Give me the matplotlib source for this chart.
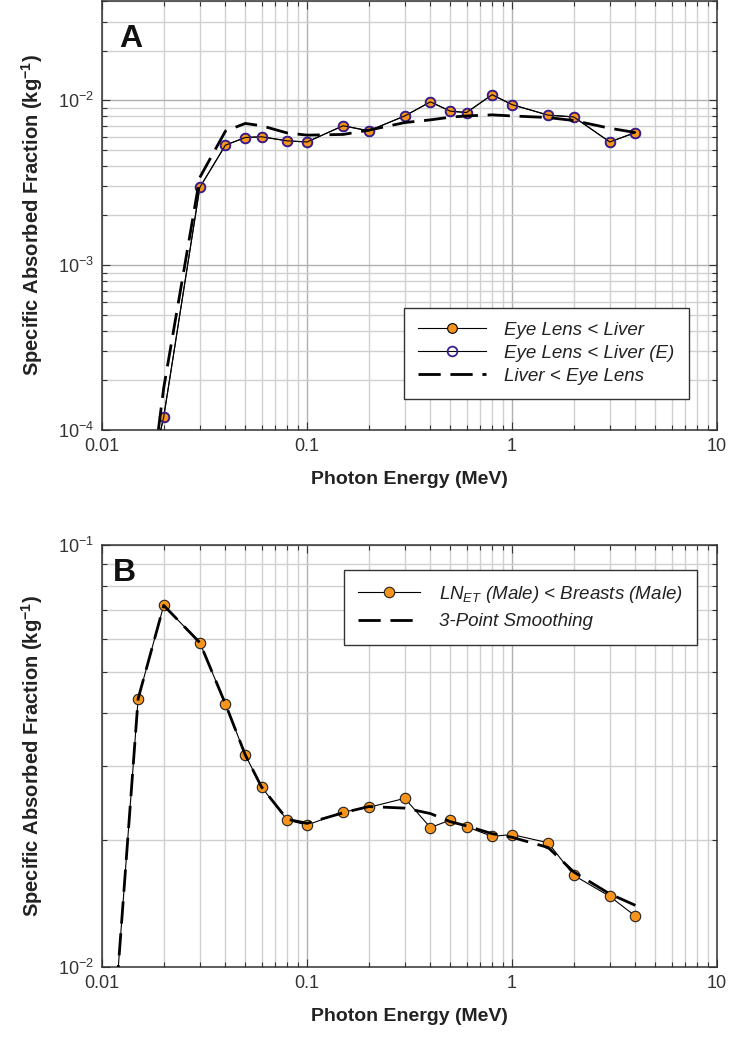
import matplotlib
matplotlib.use("Agg")
import matplotlib.pyplot as plt
from matplotlib.ticker import LogLocator, NullFormatter, FixedLocator, FixedFormatter

plt.rcParams['font.family'] = ['Liberation Sans', 'DejaVu Sans']
plt.rcParams['mathtext.fontset'] = 'custom'
plt.rcParams['mathtext.rm'] = 'Liberation Sans'
plt.rcParams['mathtext.it'] = 'Liberation Sans:italic'
plt.rcParams['mathtext.bf'] = 'Liberation Sans:bold'

# ---------------- Data ----------------
energy_a = [0.015, 0.02, 0.03, 0.04, 0.05, 0.06, 0.08, 0.1, 0.15, 0.2, 0.3,
            0.4, 0.5, 0.6, 0.8, 1.0, 1.5, 2.0, 3.0, 4.0]
saf_eye_lens_liver = [2.5e-5, 1.2e-4, 2.96e-3, 5.34e-3, 5.94e-3, 6.0e-3, 5.67e-3,
                      5.58e-3, 7.0e-3, 6.52e-3, 8.03e-3, 9.77e-3, 8.58e-3, 8.42e-3,
                      1.08e-2, 9.4e-3, 8.12e-3, 7.92e-3, 5.58e-3, 6.37e-3]
saf_eye_lens_liver_e = [2.5e-5, 1.2e-4, 2.96e-3, 5.34e-3, 5.94e-3, 6.0e-3, 5.67e-3,
                        5.58e-3, 7.0e-3, 6.52e-3, 8.03e-3, 9.77e-3, 8.58e-3, 8.42e-3,
                        1.08e-2, 9.4e-3, 8.12e-3, 7.92e-3, 5.58e-3, 6.37e-3]
saf_liver_eye_lens = [1.1e-5, 1.8e-4, 3.4e-3, 6.5e-3, 7.23e-3, 7.0e-3, 6.33e-3,
                      6.14e-3, 6.2e-3, 6.58e-3, 7.32e-3, 7.6e-3, 7.89e-3, 8.03e-3,
                      8.15e-3, 8.03e-3, 7.85e-3, 7.53e-3, 6.76e-3, 6.37e-3]

energy_b = [0.01, 0.015, 0.02, 0.03, 0.04, 0.05, 0.06, 0.08, 0.1, 0.15, 0.2, 0.3,
            0.4, 0.5, 0.6, 0.8, 1.0, 1.5, 2.0, 3.0, 4.0]
saf_ln_breasts = [0.003, 0.0432, 0.0719, 0.0587, 0.0420, 0.0318, 0.0267, 0.0223,
                  0.0217, 0.0233, 0.0239, 0.0251, 0.0214, 0.0223, 0.0215, 0.0204,
                  0.0206, 0.0197, 0.0165, 0.0147, 0.0132]
saf_smoothed = [0.003, 0.0432, 0.0719, 0.0587, 0.0420, 0.0318, 0.0267, 0.0224,
                0.0219, 0.0232, 0.0240, 0.0238, 0.0231, 0.0221, 0.0216, 0.0207,
                0.0203, 0.0192, 0.0168, 0.0149, 0.0140]

x_ticks = [0.01, 0.1, 1, 10]
x_tick_labels = ['0.01', '0.1', '1', '10']
ya_ticks = [1e-4, 1e-3, 1e-2]
ya_tick_labels = [r'$\mathregular{10^{-4}}$', r'$\mathregular{10^{-3}}$', r'$\mathregular{10^{-2}}$']
yb_ticks = [1e-2, 1e-1]
yb_tick_labels = [r'$\mathregular{10^{-2}}$', r'$\mathregular{10^{-1}}$']

ORANGE = '#F7941D'
PURPLE = '#3B1E8E'
GRID_MAJ = '#B0B0B0'
GRID_MIN = '#D0D0D0'
TXT = '#333333'

fig = plt.figure(figsize=(7.49, 10.5), dpi=100)
ax_a = fig.add_axes([0.1362, 0.5905, 0.8211, 0.4086])
ax_b = fig.add_axes([0.1362, 0.0790, 0.8211, 0.4020])


def style_axes(ax, yticks, ylabels, ylim):
    ax.set_xscale('log')
    ax.set_yscale('log')
    ax.set_xlim(0.01, 10)
    ax.set_ylim(*ylim)
    ax.xaxis.set_major_locator(FixedLocator(x_ticks))
    ax.xaxis.set_major_formatter(FixedFormatter(x_tick_labels))
    ax.xaxis.set_minor_locator(LogLocator(base=10, subs=range(2, 10), numticks=20))
    ax.xaxis.set_minor_formatter(NullFormatter())
    ax.yaxis.set_major_locator(FixedLocator(yticks))
    ax.yaxis.set_major_formatter(FixedFormatter(ylabels))
    ax.yaxis.set_minor_locator(LogLocator(base=10, subs=range(2, 10), numticks=20))
    ax.yaxis.set_minor_formatter(NullFormatter())
    ax.grid(True, which='major', color=GRID_MAJ, lw=1.0, zorder=0)
    ax.grid(True, which='minor', color=GRID_MIN, lw=1.0, zorder=0)
    ax.set_axisbelow(True)
    ax.tick_params(which='both', direction='in', top=True, right=True,
                   colors=TXT, labelcolor=TXT, labelsize=13, width=0.8)
    ax.tick_params(which='major', length=6, pad=6)
    ax.tick_params(which='minor', length=3.5)
    for s in ax.spines.values():
        s.set_color('#333333')
        s.set_linewidth(1.1)
    ax.set_xlabel('Photon Energy (MeV)', fontsize=14, fontweight='bold',
                  color='#222222', labelpad=11)
    ax.set_ylabel(r'Specific Absorbed Fraction (kg$^{\mathbf{-1}}$)', fontsize=14.5,
                  fontweight='bold', color='#222222', labelpad=9)


# ---------------- Panel A ----------------
style_axes(ax_a, ya_ticks, ya_tick_labels, (1e-4, 4e-2))
ax_a.plot(energy_a, saf_eye_lens_liver, '-', color='black', lw=0.8,
          marker='o', ms=7, mfc=ORANGE, mec='black', mew=0.8,
          label='Eye Lens < Liver', zorder=3)
ax_a.plot(energy_a, saf_eye_lens_liver_e, '-', color='black', lw=0.8,
          marker='o', ms=7, mfc='none', mec=PURPLE, mew=1.3,
          label='Eye Lens < Liver (E)', zorder=4)
ax_a.plot(energy_a, saf_liver_eye_lens, color='black', lw=2.0,
          dashes=(8, 3.5), label='Liver < Eye Lens', zorder=5)
ax_a.text(0.028, 0.893, 'A', transform=ax_a.transAxes, fontsize=23,
          fontweight='bold', color='#111111', va='baseline')
leg_a = ax_a.legend(loc='lower right', bbox_to_anchor=(0.954, 0.072),
                    prop={'style': 'italic', 'size': 13.5}, fancybox=False,
                    framealpha=1, edgecolor='#333333', handlelength=3.6,
                    borderpad=0.75, labelspacing=0.32, handletextpad=1.0,
                    borderaxespad=0)
leg_a.get_frame().set_linewidth(1.0)
for t in leg_a.get_texts():
    t.set_color('#222222')

# ---------------- Panel B ----------------
style_axes(ax_b, yb_ticks, yb_tick_labels, (1e-2, 1e-1))
ax_b.plot(energy_b, saf_ln_breasts, '-', color='black', lw=0.8,
          marker='o', ms=7.5, mfc=ORANGE, mec='#222222', mew=0.8,
          label=r'$LN_{ET}$ (Male) < Breasts (Male)', zorder=3)
ax_b.plot(energy_b, saf_smoothed, color='black', lw=2.0, dashes=(8, 3.5),
          label='3-Point Smoothing', zorder=4)
ax_b.text(0.018, 0.915, 'B', transform=ax_b.transAxes, fontsize=23,
          fontweight='bold', color='#111111', va='baseline')
leg_b = ax_b.legend(loc='upper right', bbox_to_anchor=(0.967, 0.941),
                    prop={'style': 'italic', 'size': 13.5}, fancybox=False,
                    framealpha=1, edgecolor='#333333', handlelength=3.3,
                    borderpad=0.75, labelspacing=0.45, handletextpad=1.0,
                    borderaxespad=0)
leg_b.get_frame().set_linewidth(1.0)
for t in leg_b.get_texts():
    t.set_color('#222222')

fig.savefig('out.png', dpi=100)
